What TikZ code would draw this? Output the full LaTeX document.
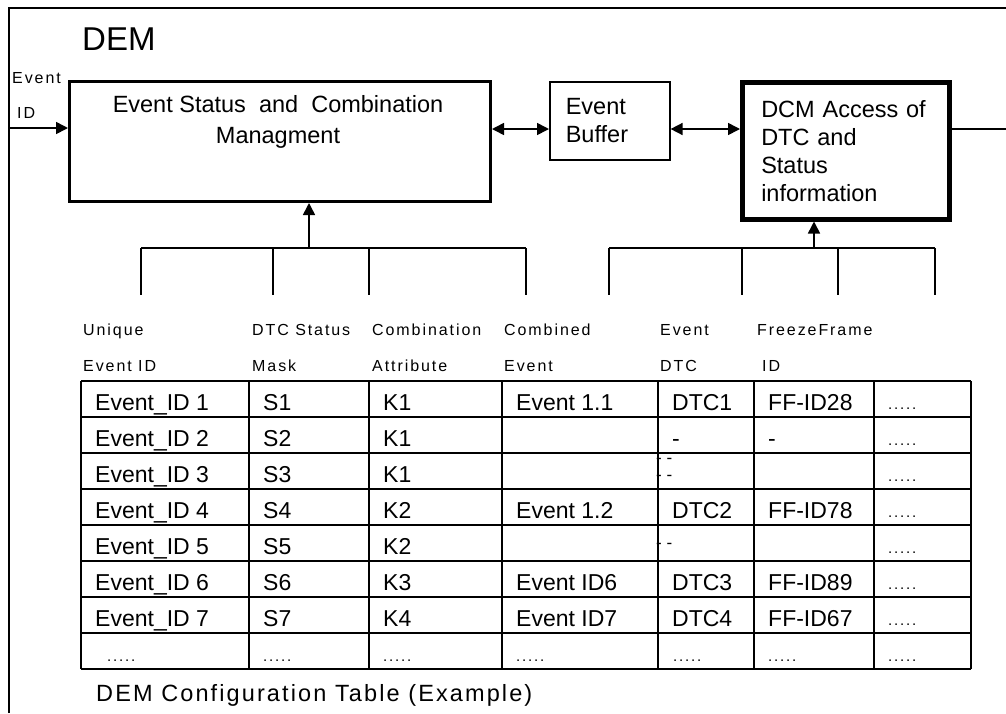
\documentclass[tikz,border=0pt]{standalone}
\usepackage{fontspec}
\setmainfont{Liberation Sans}
\newfontfamily\hdrfont[LetterSpace=12]{Liberation Sans}
\newfontfamily\capfont[LetterSpace=9]{Liberation Sans}
\usetikzlibrary{arrows.meta}
\tikzset{
	wire/.style={line width=1.6pt},
	arr/.style={wire,-{Triangle[length=12pt,width=12pt]}},
	darr/.style={wire,{Triangle[length=12pt,width=12pt]}-{Triangle[length=12pt,width=12pt]}},
	gridline/.style={line width=2pt},
	mainbox/.style={draw,line width=3pt,inner sep=0pt},
	thinbox/.style={draw,line width=1.6pt},
	boxtxt/.style={inner sep=0pt,font=\fontsize{23.5}{31}\selectfont},
	cell/.style={anchor=base west,inner sep=0pt,font=\fontsize{23}{27}\selectfont},
	hdr/.style={anchor=base west,inner sep=0pt,font=\hdrfont\fontsize{16}{18}\selectfont},
	dotcell/.style={anchor=base west,inner sep=0pt,font=\hdrfont\fontsize{15}{18}\selectfont},
	dashmark/.style={anchor=west,inner sep=0pt,font=\fontsize{17}{18}\selectfont},
}
\begin{document}
\begin{tikzpicture}[x=1pt,y=-1pt]
	\useasboundingbox (0,0) rectangle (1006,713);
	\draw[line width=1.5pt] (9,713) -- (9,8) -- (1006,8);
	\node[anchor=base west,inner sep=0pt,font=\fontsize{33}{36}\selectfont] (dem) at (82,50) {DEM};
	\node[hdr] (evlbl) at (12,83) {Event};
	\node[hdr] (idlbl) at (17,118) {ID};

	\node[mainbox,minimum width=421pt,minimum height=120pt,anchor=north west] (esc) at (68,80) {};
	\node[boxtxt,align=center,anchor=base] (esctxt) at (278,143) {Event Status\ \ and\ \ Combination\\Managment};
	\node[thinbox,anchor=north west,minimum width=120pt,minimum height=78pt,text width=88pt,inner xsep=16pt,align=left,font=\fontsize{23.5}{28}\selectfont] (buf) at (549,81) {Event\\Buffer};
	\node[mainbox,line width=4.5pt,anchor=north west,minimum height=137pt,text width=169pt,inner xsep=19pt,align=left,font=\fontsize{23.5}{28}\selectfont] (dcm) at (740,80) {DCM Access of\\DTC and\\Status\\information};

	\coordinate (evin) at (9,128);
	\coordinate (lnk) at (0,129);
	\coordinate (out) at (1006,129);
	\draw[arr] (evin) -- (evin -| esc.west);
	\draw[darr] (esc.east |- lnk) -- (buf.west |- lnk);
	\draw[darr] (buf.east |- lnk) -- (dcm.west |- lnk);
	\draw[wire] (dcm.east |- lnk) -- (out);

	\coordinate (busl) at (309,248);
	\coordinate (busr) at (814,248);
	\draw[arr] (busl) -- (busl |- esc.south);
	\draw[arr] (busr) -- (busr |- dcm.south);
	\draw[wire] (141,248) -- (526,248);
	\draw[wire] (609,248) -- (935,248);
	\foreach \x in {141,273,369,526,609,742,838,935}
		\draw[wire] (\x,248) -- (\x,295);

	\node[hdr] (h1a) at (83,335) {Unique};
	\node[hdr] (h1b) at (83,371) {Event ID};
	\node[hdr] (h2a) at (252,335) {DTC Status};
	\node[hdr] (h2b) at (252,371) {Mask};
	\node[hdr] (h3a) at (372,335) {Combination};
	\node[hdr] (h3b) at (372,371) {Attribute};
	\node[hdr] (h4a) at (504,335) {Combined};
	\node[hdr] (h4b) at (504,371) {Event};
	\node[hdr] (h5a) at (660,335) {Event};
	\node[hdr] (h5b) at (660,371) {DTC};
	\node[hdr] (h6a) at (757,335) {FreezeFrame};
	\node[hdr] (h6b) at (762,371) {ID};

	\foreach \x in {81,249,369,502,658,754,874,971}
		\draw[gridline] (\x,381) -- (\x,669);
	\foreach \y in {381,417,...,669}
		\draw[gridline] (81,\y) -- (971,\y);

	\foreach \r/\a/\b/\c/\d/\e/\f in {1/Event\_ID 1/S1/K1/Event 1.1/DTC1/FF-ID28,
			2/Event\_ID 2/S2/K1//-/-,
			3/Event\_ID 3/S3/K1///,
			4/Event\_ID 4/S4/K2/Event 1.2/DTC2/FF-ID78,
			5/Event\_ID 5/S5/K2///,
			6/Event\_ID 6/S6/K3/Event ID6/DTC3/FF-ID89,
			7/Event\_ID 7/S7/K4/Event ID7/DTC4/FF-ID67}{
		\pgfmathsetmacro{\yb}{374+36*\r}
		\node[cell] (ev\r) at (95,\yb) {\a};
		\node[cell] (st\r) at (263,\yb) {\b};
		\node[cell] (ka\r) at (383,\yb) {\c};
		\node[cell] (cb\r) at (516,\yb) {\d};
		\node[cell] (dtc\r) at (672,\yb) {\e};
		\node[cell] (ff\r) at (768,\yb) {\f};
		\node[dotcell] (more\r) at (888,\yb-1) {.....};
	}
	\node[dashmark] (m3a) at (656,461) {- -};
	\node[dashmark] (m3b) at (656,478) {- -};
	\node[dashmark] (m5) at (656,546) {- -};
	\foreach \x/\n in {107/1,263/2,383/3,516/4,673/5,768/6,888/7}
		\node[dotcell] (last\n) at (\x,661) {.....};

	\node[anchor=base west,inner sep=0pt,font=\capfont\fontsize{23.5}{28}\selectfont] (cap) at (96,701) {DEM Configuration Table (Example)};
\end{tikzpicture}
\end{document}
